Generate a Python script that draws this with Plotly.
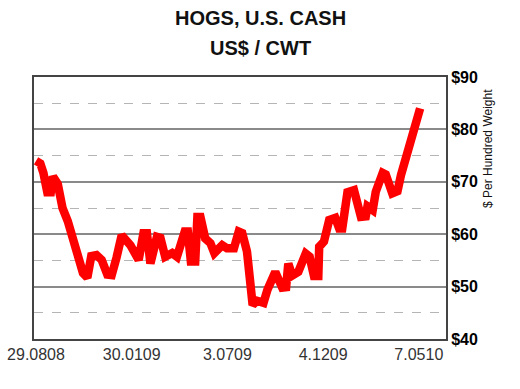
import plotly.graph_objects as go

# Weekly index since 29.08.08 (vertices) and cash price, US$/cwt
weeks = [0, 1, 1.7, 2.6, 3.4, 3.9, 5.0, 6.1, 7.3, 8.6, 9.7, 10.8, 11.8, 12.7, 13.9,
         15.1, 16.4, 17.4, 18.5, 19.7, 21.7, 23.6, 24.7, 25.5, 26.3, 27.8, 28.6,
         29.7, 31.3, 32.4, 34.2, 34.9, 35.6, 36.6, 37.1, 37.8, 38.9, 40.1, 41.0,
         42.8, 43.9, 45.5, 46.6, 47.4, 48.5, 49.8, 50.8, 52.3, 53.2, 55.0, 56.6,
         57.5, 58.0, 58.9, 60.3, 62.0, 62.9, 63.9, 64.9, 65.1, 66.2, 67.4, 68.8,
         69.7, 70.4, 71.6, 73.1, 74.7, 75.8, 76.2, 77.4, 78.1, 79.7, 80.4, 81.9,
         83.1, 83.9, 84.5, 88.3]
prices = [74, 73.5, 71.7, 68, 68, 71, 69.6, 65, 62.5, 59.2, 55.1, 52.6, 51.7, 55.8, 56,
          55.1, 52.3, 52.2, 55.5, 59.8, 57.9, 55.1, 60.2, 60.2, 54.4, 59.5, 59.3,
          55.7, 56.4, 55.7, 60.5, 60.5, 54.8, 54.8, 63.3, 63.3, 59.2, 58.3, 56.4,
          57.9, 57.3, 57.3, 60.5, 60.2, 56.7, 46.5, 47.3, 46.9, 49.4, 52.8, 49.8,
          49.9, 54.4, 52.1, 52.8, 56.3, 55.7, 52, 52, 57.6, 58.6, 62.7, 63.1,
          61.1, 61.1, 68, 68.4, 63.3, 63.4, 65.3, 64.6, 68.1, 71.7, 71.4, 67.8,
          68.2, 71.3, 73, 84]

tick_weeks = [0, 22, 44, 66, 88]
tick_labels = ["29.0808", "30.0109", "3.0709", "4.1209", "7.0510"]
y_ticks = [40, 50, 60, 70, 80, 90]
y_tick_labels = ["$40", "$50", "$60", "$70", "$80", "$90"]

title_main = "HOGS, U.S. CASH"
title_sub = "US$ / CWT"
y_title = "$ Per Hundred Weight"

fig = go.Figure()
fig.add_trace(go.Scatter(x=weeks, y=prices, mode="lines",
                         line=dict(color="#FF0000", width=8.5),
                         hoverinfo="skip", showlegend=False))

font_family = "Liberation Sans, Arial, sans-serif"

fig.update_layout(
    width=520, height=389,
    margin=dict(l=34, r=74, t=77, b=50),
    paper_bgcolor="white", plot_bgcolor="white",
    font=dict(family=font_family, color="#000"),
    xaxis=dict(range=[-0.46, 94.25], tickvals=tick_weeks, ticktext=tick_labels,
               showgrid=False, zeroline=False, showline=True, linecolor="#444",
               linewidth=2, mirror=True, ticks="", automargin=False,
               tickfont=dict(size=16, color="#333", family=font_family)),
    yaxis=dict(side="right", range=[40, 90], tickvals=y_ticks, ticktext=y_tick_labels,
               showgrid=True, gridcolor="#8a8a8a", gridwidth=1.5,
               minor=dict(dtick=5, showgrid=True, gridcolor="#b5b5b5",
                          griddash="dash", gridwidth=1),
               zeroline=False, showline=True, linecolor="#444", linewidth=2,
               mirror=True, ticks="", automargin=False,
               tickfont=dict(size=16, color="#000",
                             family="Liberation Sans, Arial, sans-serif", weight="bold")),
    annotations=[
        dict(text=f"<b>{title_main}</b>", xref="paper", yref="paper", x=0.5, y=1,
             xanchor="center", yanchor="middle", showarrow=False,
             font=dict(size=20, color="#111"),
             yshift=77 - 17.5, xshift=(260 - (34 + 446) / 2)),
        dict(text=f"<b>{title_sub}</b>", xref="paper", yref="paper", x=0.5, y=1,
             xanchor="center", yanchor="middle", showarrow=False,
             font=dict(size=20, color="#111"),
             yshift=77 - 47.5, xshift=(260 - (34 + 446) / 2)),
        dict(text=y_title, xref="paper", yref="paper", x=1, y=1,
             xanchor="center", yanchor="middle", showarrow=False, textangle=-90,
             font=dict(size=12, color="#111"),
             xshift=488 - 446, yshift=77 - 149),
    ],
)

fig.write_html("out.html")
